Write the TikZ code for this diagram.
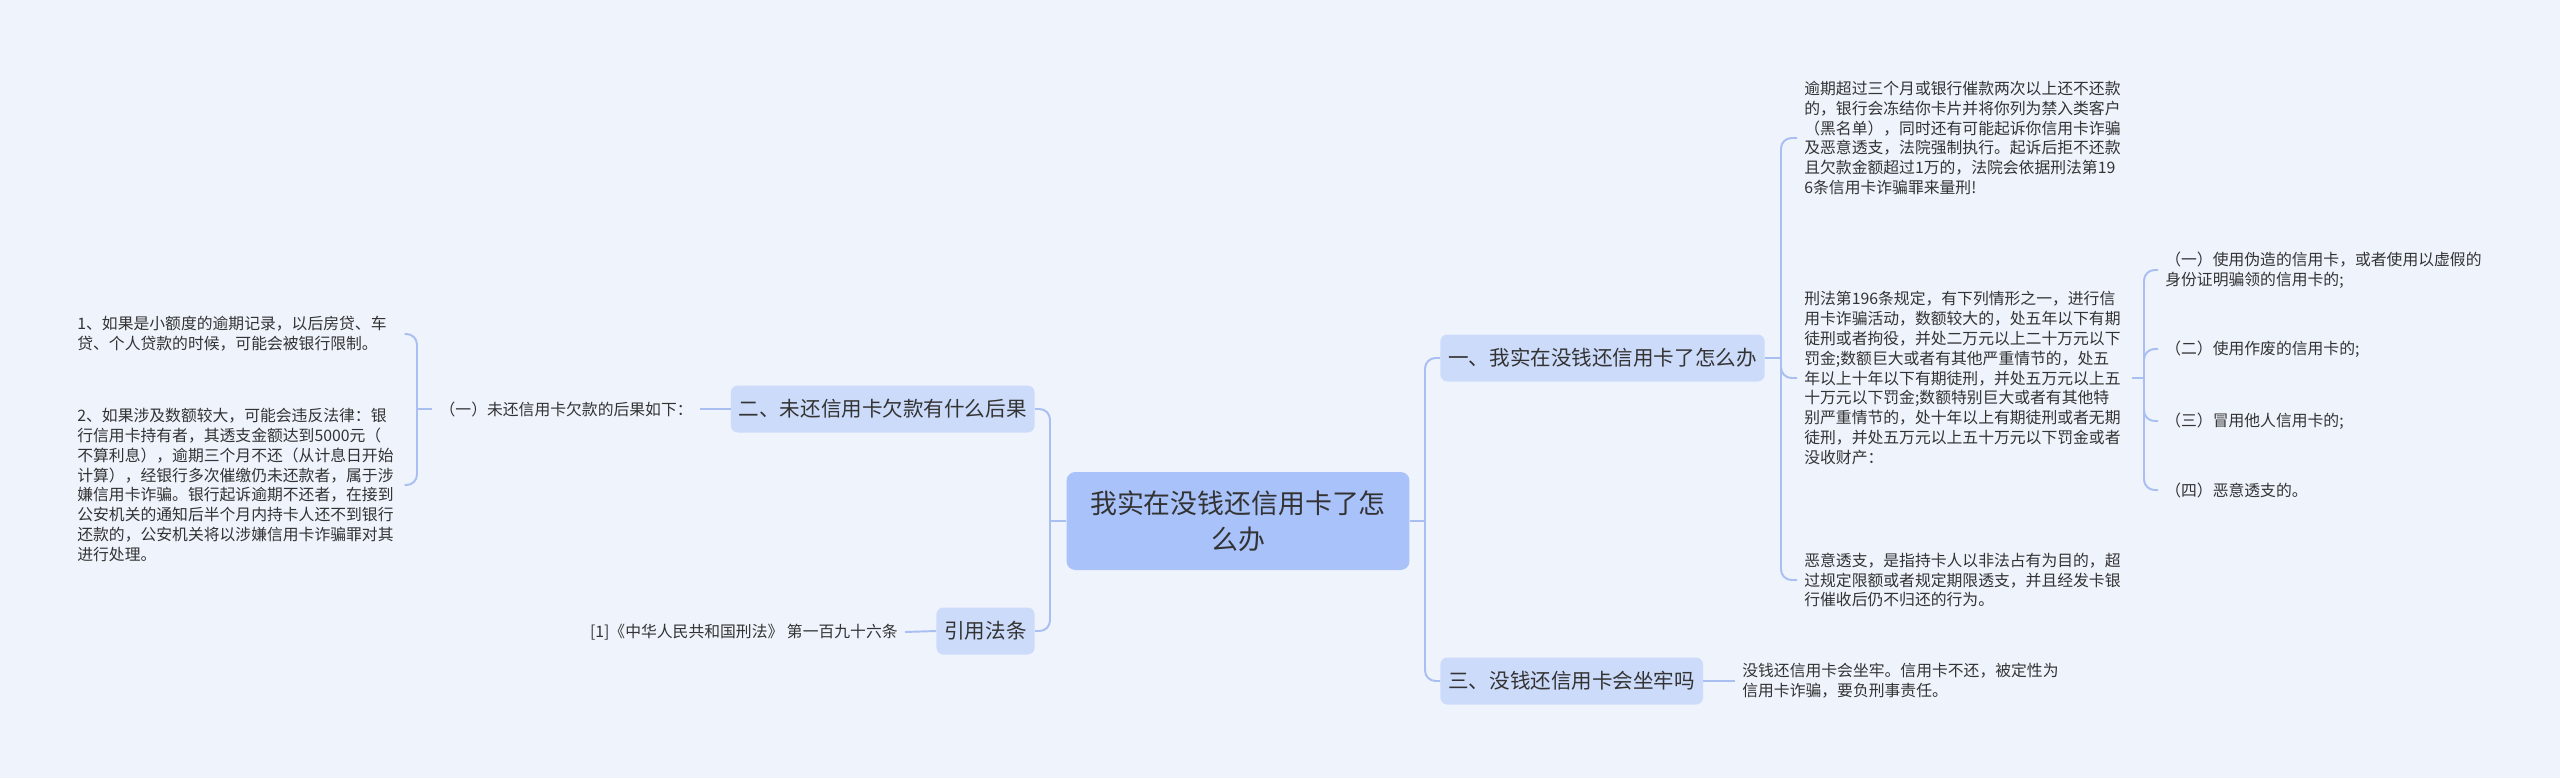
\documentclass[tikz,border=0pt]{standalone}
\usepackage{fontspec}
\newfontfamily\cjkfont{Noto Sans CJK SC}
\usepackage{xcolor}
\usepackage{tikz}
\usetikzlibrary{positioning, calc}

\definecolor{bgblue}{HTML}{EEF3FC}
\definecolor{rootblue}{HTML}{A9C2FA}
\definecolor{branchblue}{HTML}{CCDBFA}
\definecolor{linkblue}{HTML}{A9BFF2}
\definecolor{textgray}{HTML}{333333}

\begin{document}
\begin{tikzpicture}[
  x=0.02cm, y=-0.02cm,
  root/.style={fill=rootblue, rounded corners=5pt, text=textgray, font=\cjkfont\fontsize{15.3pt}{20.4pt}\selectfont, align=center, text width=6.1cm, minimum width=6.86cm, minimum height=1.96cm, inner sep=0pt},
  branch/.style={fill=branchblue, rounded corners=4pt, text=textgray, font=\cjkfont\fontsize{11.7pt}{14pt}\selectfont, minimum height=0.94cm, inner xsep=0.16cm},
  leaf/.style={text=textgray, font=\cjkfont\fontsize{9pt}{11.34pt}\selectfont, align=left, inner xsep=0.14cm, inner ysep=2pt},
  leafpara/.style={leaf, text width=6.4cm},
  link/.style={draw=linkblue, line width=1.1pt, rounded corners=6pt}
]
\useasboundingbox[fill=bgblue] (0,0) rectangle (2560,778);

\node[root] (root) at (1238,521) {我实在没钱还信用卡了怎\\么办};

\node[branch, anchor=west] (b1) at (1440,358) {一、我实在没钱还信用卡了怎么办};
\node[branch, anchor=west] (b3) at (1440,681) {三、没钱还信用卡会坐牢吗};
\node[branch, anchor=east] (b2) at (1035,409) {二、未还信用卡欠款有什么后果};
\node[branch, anchor=east] (cite) at (1035,631) {引用法条};

\coordinate (jr) at (1425,521);
\coordinate (jl) at (1050,521);
\draw[link] (root.east) -- (jr);
\draw[link] (jr) |- (b1.west);
\draw[link] (jr) |- (b3.west);
\draw[link] (root.west) -- (jl);
\draw[link] (jl) |- (b2.east);
\draw[link] (jl) |- (cite.east);

\node[leafpara, anchor=west] (r1) at (1797,138) {逾期超过三个月或银行催款两次以上还不还款\\的，银行会冻结你卡片并将你列为禁入类客户\\（黑名单），同时还有可能起诉你信用卡诈骗\\及恶意透支，法院强制执行。起诉后拒不还款\\且欠款金额超过1万的，法院会依据刑法第19\\6条信用卡诈骗罪来量刑!};
\node[leafpara, anchor=west] (r2) at (1797,378) {刑法第196条规定，有下列情形之一，进行信\\用卡诈骗活动，数额较大的，处五年以下有期\\徒刑或者拘役，并处二万元以上二十万元以下\\罚金;数额巨大或者有其他严重情节的，处五\\年以上十年以下有期徒刑，并处五万元以上五\\十万元以下罚金;数额特别巨大或者有其他特\\别严重情节的，处十年以上有期徒刑或者无期\\徒刑，并处五万元以上五十万元以下罚金或者\\没收财产：};
\node[leafpara, anchor=west] (r3) at (1797,580) {恶意透支，是指持卡人以非法占有为目的，超\\过规定限额或者规定期限透支，并且经发卡银\\行催收后仍不归还的行为。};

\coordinate (j1) at (1781,358);
\draw[link] (b1.east) -- (j1);
\draw[link] (j1) |- (r1.west);
\draw[link] (j1) |- (r2.west);
\draw[link] (j1) |- (r3.west);

\node[leaf, anchor=west] (i1) at (2158,270) {（一）使用伪造的信用卡，或者使用以虚假的\\身份证明骗领的信用卡的;};
\node[leaf, anchor=west] (i2) at (2158,349) {（二）使用作废的信用卡的;};
\node[leaf, anchor=west] (i3) at (2158,421) {（三）冒用他人信用卡的;};
\node[leaf, anchor=west] (i4) at (2158,490) {（四）恶意透支的。};

\coordinate (j2) at (2144,378);
\draw[link] (r2.east) -- (j2);
\foreach \n in {i1,i2,i3,i4}
  \draw[link] (j2) |- (\n.west);

\node[leaf, anchor=west] (b3txt) at (1735,681) {没钱还信用卡会坐牢。信用卡不还，被定性为\\信用卡诈骗，要负刑事责任。};
\draw[link] (b3.east) -- (b3txt.west);

\node[leaf, anchor=east] (sub) at (700,409) {（一）未还信用卡欠款的后果如下：};
\draw[link] (b2.west) -- (sub.east);

\node[leafpara, anchor=west] (l1) at (70,334) {1、如果是小额度的逾期记录，以后房贷、车\\贷、个人贷款的时候，可能会被银行限制。};
\node[leafpara, anchor=west] (l2) at (70,485) {2、如果涉及数额较大，可能会违反法律：银\\行信用卡持有者，其透支金额达到5000元（\\不算利息），逾期三个月不还（从计息日开始\\计算），经银行多次催缴仍未还款者，属于涉\\嫌信用卡诈骗。银行起诉逾期不还者，在接到\\公安机关的通知后半个月内持卡人还不到银行\\还款的，公安机关将以涉嫌信用卡诈骗罪对其\\进行处理。};

\coordinate (js) at (417,409);
\draw[link] (sub.west) -- (js);
\draw[link] (js) |- (l1.east);
\draw[link] (js) |- (l2.east);

\node[leaf, anchor=east] (law) at (905,632) {[1]《中华人民共和国刑法》 第一百九十六条};
\draw[link] (cite.west) -- (law.east);

\end{tikzpicture}
\end{document}
